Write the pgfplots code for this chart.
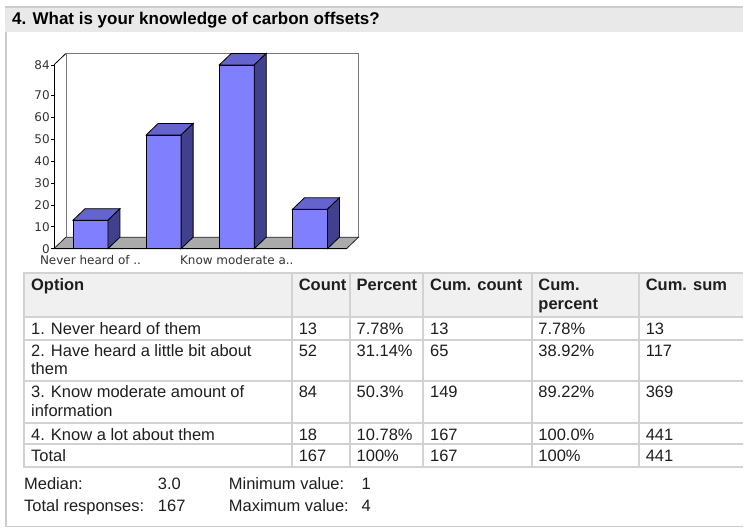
\documentclass[border=0pt]{standalone}
\usepackage{pgfplots}
\pgfplotsset{compat=1.18}
\usepackage{pgfplotstable}
\usepackage{fontspec}
\setmainfont{Liberation Sans}
\newfontfamily\chartfont{DejaVu Sans}

\definecolor{barfront}{HTML}{8080FF}
\definecolor{bartop}{HTML}{6464CC}
\definecolor{barside}{HTML}{40408C}
\definecolor{floorgray}{HTML}{AAAAAA}
\definecolor{wallline}{HTML}{777777}
\definecolor{tickgray}{HTML}{333333}
\definecolor{bandgray}{HTML}{E9E9E9}
\definecolor{bandline}{HTML}{CCCCCC}
\definecolor{gridgray}{HTML}{D2D2D2}
\definecolor{headgray}{HTML}{F0F0F0}
\definecolor{txt}{HTML}{1E1E1E}

% counts per answer (x = category position)
\pgfplotstableread{
pos count
0 13
1 52
2 84
3 18
}\answers

\newcommand\cell[3]{\node[anchor=base west, inner sep=0pt, text=txt] at (#1,#2) {#3};}

\begin{document}
\begin{tikzpicture}
\begin{scope}[x=1pt, y=-1pt]
  \path[use as bounding box] (0,0) rectangle (744,529);
  % question panel
  \fill[bandgray] (5,6) rectangle (744,32);
  \draw[bandline, line width=2pt] (5,7) -- (744,7);
  \draw[bandline, line width=1.5pt] (6,32) -- (6,527) -- (744,527);
  \node[anchor=base west, inner sep=0pt, font=\fontsize{17}{20}\selectfont\bfseries]
    at (12,25) {4. What is your knowledge of carbon offsets?};
  % back wall and floor of the 3D chart
  \filldraw[fill=white, draw=wallline, line width=0.8pt] (66,53.5) rectangle (359,237.5);
  \filldraw[fill=floorgray, draw=black!85, line width=0.8pt]
    (54,249) -- (347,249) -- (359,237.5) -- (66,237.5) -- cycle;
  \draw[black, line width=0.8pt] (54,65) -- (66,53.5);
\end{scope}

\begin{axis}[
  at={(54pt,-249pt)}, anchor=south west,
  scale only axis, width=293pt, height=184pt,
  xmin=-0.5, xmax=3.5, ymin=0, ymax=84,
  clip=false,
  axis x line*=bottom, axis y line*=left,
  axis line style={black, line width=0.8pt},
  xtick={0,2}, xticklabels={Never heard of .., Know moderate a..},
  ytick={0,10,20,30,40,50,60,70,84},
  tick align=outside, major tick length=3pt,
  major x tick style={draw=none},
  ytick style={black, line width=0.6pt},
  tick label style={font=\chartfont\fontsize{12}{14}\selectfont, text=tickgray},
  yticklabel style={inner xsep=1pt, inner ysep=0pt},
  xticklabel style={inner ysep=4pt},
  /pgf/number format/assume math mode=true,
]
\addplot[ybar, bar width=35pt, bar shift=0pt, fill=barfront, draw=black, line width=0.8pt]
  table[x=pos, y=count] {\answers};
% top and side faces of each bar, drawn from the same counts
\addplot[scatter, only marks, mark=*, mark size=0pt,
  visualization depends on={\thisrow{count} \as \val},
  scatter/@pre marker code/.code={%
    \pgfmathsetmacro\h{\val*184/84}%
    \pgfmathsetmacro\hb{11.5-\h}%
    \filldraw[fill=bartop, draw=black, line width=0.8pt]
      (-17.5pt,0pt) -- (17.5pt,0pt) -- (29.5pt,11.5pt) -- (-5.5pt,11.5pt) -- cycle;
    \filldraw[fill=barside, draw=black, line width=0.8pt]
      (17.5pt,0pt) -- (29.5pt,11.5pt) -- (29.5pt,\hb pt) -- (17.5pt,-\h pt) -- cycle;
  },
  scatter/@post marker code/.code={},
] table[x=pos, y=count] {\answers};
\end{axis}

\begin{scope}[x=1pt, y=-1pt]
  % results table
  \fill[headgray] (24,273.5) rectangle (744,317.5);
  \foreach \yy in {273.5,317.5,340,382,424,445,467.5}
    \draw[gridgray, line width=2pt] (23,\yy) -- (744,\yy);
  \foreach \xx in {24,292.5,350.5,424,532.5,640}
    \draw[gridgray, line width=2pt] (\xx,273.5) -- (\xx,467.5);
  \begin{scope}[font=\fontsize{16.5}{19}\selectfont]
    \begin{scope}[font=\fontsize{16.5}{19}\selectfont\bfseries]
      \cell{31}{290.7}{Option}
      \cell{299}{290.7}{Count}
      \cell{357}{290.7}{Percent}
      \cell{430.5}{290.7}{Cum. count}
      \cell{539}{290.7}{Cum.}
      \cell{539}{310}{percent}
      \cell{646.5}{290.7}{Cum. sum}
    \end{scope}
    \cell{31}{335}{1. Never heard of them}
    \cell{299}{335}{13}\cell{357}{335}{7.78\%}\cell{430.5}{335}{13}
    \cell{539}{335}{7.78\%}\cell{646.5}{335}{13}
    \cell{31}{356.7}{2. Have heard a little bit about}
    \cell{31}{375.5}{them}
    \cell{299}{356.7}{52}\cell{357}{356.7}{31.14\%}\cell{430.5}{356.7}{65}
    \cell{539}{356.7}{38.92\%}\cell{646.5}{356.7}{117}
    \cell{31}{398.5}{3. Know moderate amount of}
    \cell{31}{417.3}{information}
    \cell{299}{398.5}{84}\cell{357}{398.5}{50.3\%}\cell{430.5}{398.5}{149}
    \cell{539}{398.5}{89.22\%}\cell{646.5}{398.5}{369}
    \cell{31}{441}{4. Know a lot about them}
    \cell{299}{441}{18}\cell{357}{441}{10.78\%}\cell{430.5}{441}{167}
    \cell{539}{441}{100.0\%}\cell{646.5}{441}{441}
    \cell{31}{461.7}{Total}
    \cell{299}{461.7}{167}\cell{357}{461.7}{100\%}\cell{430.5}{461.7}{167}
    \cell{539}{461.7}{100\%}\cell{646.5}{461.7}{441}
    % summary
    \cell{24}{490}{Median:}\cell{158}{490}{3.0}
    \cell{229}{490}{Minimum value:}\cell{362}{490}{1}
    \cell{24}{512}{Total responses:}\cell{158}{512}{167}
    \cell{229}{512}{Maximum value:}\cell{362}{512}{4}
  \end{scope}
\end{scope}
\end{tikzpicture}
\end{document}
